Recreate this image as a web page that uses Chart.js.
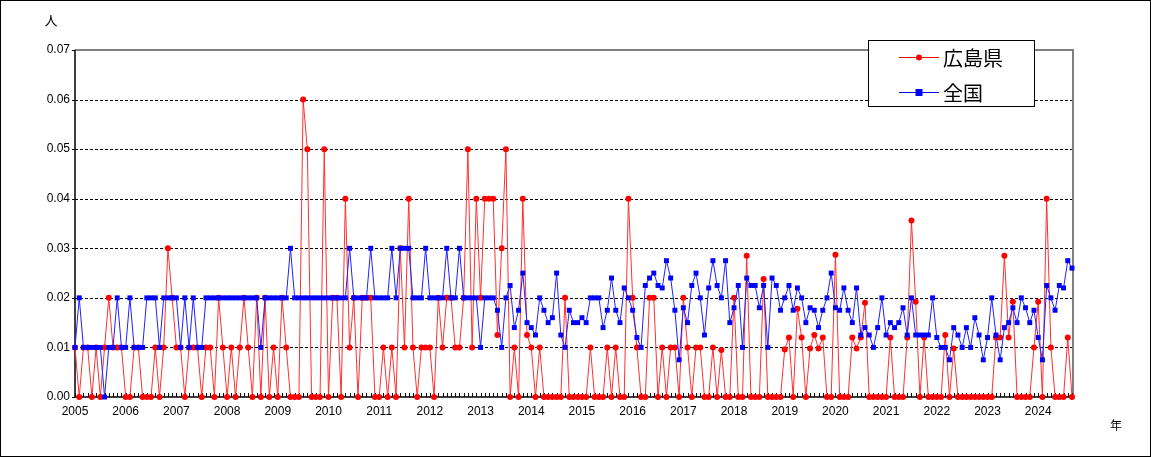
<!DOCTYPE html>
<html lang="ja">
<head>
<meta charset="UTF-8">
<title>広島県・全国 推移</title>
<script src="https://cdn.jsdelivr.net/npm/chart.js"></script>
<style>
  body { margin: 0; background: #fff; }
  canvas { display: block; }
</style>
</head>
<body>
<canvas id="chart" width="1151" height="457"></canvas>
<script>
// 年（各年1月が目盛）
const years = [2005, 2006, 2007, 2008, 2009, 2010, 2011, 2012, 2013, 2014,
               2015, 2016, 2017, 2018, 2019, 2020, 2021, 2022, 2023, 2024];
const lastYearMonths = 9; // 2024年は9月まで
const yTicks = [0, 0.01, 0.02, 0.03, 0.04, 0.05, 0.06, 0.07];

// 広島県
const hiroshima = [
  0.01, 0, 0.01, 0.01, 0, 0.01, 0, 0.01, 0.02, 0.01, 0.01, 0.01,
  0, 0, 0.01, 0.01, 0, 0, 0, 0.01, 0, 0.01, 0.03, 0.02,
  0.01, 0.01, 0, 0.01, 0.01, 0.01, 0, 0.01, 0.01, 0, 0.02, 0.01,
  0, 0.01, 0, 0.01, 0.02, 0.01, 0, 0.02, 0, 0.02, 0, 0.01,
  0, 0.02, 0.01, 0, 0, 0, 0.06, 0.05, 0, 0, 0, 0.05,
  0, 0.02, 0.02, 0, 0.04, 0.01, 0.02, 0, 0.02, 0.02, 0.02, 0,
  0, 0.01, 0, 0.01, 0, 0.03, 0.01, 0.04, 0.01, 0, 0.01, 0.01,
  0.01, 0, 0.02, 0.01, 0.02, 0.02, 0.01, 0.01, 0.02, 0.05, 0.01, 0.04,
  0.02, 0.04, 0.04, 0.04, 0.0125, 0.03, 0.05, 0, 0.01, 0, 0.04, 0.0125,
  0.01, 0, 0.01, 0, 0, 0, 0, 0, 0.02, 0, 0, 0,
  0, 0, 0.01, 0, 0, 0, 0.01, 0, 0.01, 0, 0, 0.04,
  0.02, 0.01, 0, 0, 0.02, 0.02, 0, 0.01, 0, 0.01, 0.01, 0,
  0.02, 0.01, 0, 0.01, 0.01, 0, 0, 0.01, 0, 0.0095, 0, 0,
  0.02, 0, 0, 0.0285, 0, 0, 0, 0.0238, 0, 0, 0, 0,
  0.0096, 0.012, 0, 0.0178, 0.012, 0, 0.0098, 0.0125, 0.0098, 0.012, 0, 0,
  0.0287, 0, 0, 0, 0.012, 0.0098, 0.012, 0.019, 0, 0, 0, 0,
  0, 0.012, 0, 0, 0, 0.012, 0.0356, 0.0192, 0, 0.012, 0, 0,
  0, 0, 0.0125, 0, 0.0098, 0, 0, 0, 0, 0, 0, 0,
  0, 0, 0.012, 0.012, 0.0285, 0.012, 0.0192, 0, 0, 0, 0, 0.01,
  0.0192, 0, 0.04, 0.01, 0, 0, 0, 0.012, 0
];

// 全国
const zenkoku = [
  0.01, 0.02, 0.01, 0.01, 0.01, 0.01, 0.01, 0, 0.01, 0.01, 0.02, 0.01,
  0.01, 0.02, 0.01, 0.01, 0.01, 0.02, 0.02, 0.02, 0.01, 0.02, 0.02, 0.02,
  0.02, 0.01, 0.02, 0.01, 0.02, 0.01, 0.01, 0.02, 0.02, 0.02, 0.02, 0.02,
  0.02, 0.02, 0.02, 0.02, 0.02, 0.02, 0.02, 0.02, 0.01, 0.02, 0.02, 0.02,
  0.02, 0.02, 0.02, 0.03, 0.02, 0.02, 0.02, 0.02, 0.02, 0.02, 0.02, 0.02,
  0.02, 0.02, 0.02, 0.02, 0.02, 0.03, 0.02, 0.02, 0.02, 0.02, 0.03, 0.02,
  0.02, 0.02, 0.02, 0.03, 0.02, 0.03, 0.03, 0.03, 0.02, 0.02, 0.02, 0.03,
  0.02, 0.02, 0.02, 0.02, 0.03, 0.02, 0.02, 0.03, 0.02, 0.02, 0.02, 0.02,
  0.01, 0.02, 0.02, 0.02, 0.0175, 0.01, 0.02, 0.0225, 0.014, 0.0175, 0.025, 0.015,
  0.014, 0.0125, 0.02, 0.0175, 0.015, 0.016, 0.025, 0.0125, 0.01, 0.0175, 0.015, 0.015,
  0.016, 0.015, 0.02, 0.02, 0.02, 0.014, 0.0175, 0.024, 0.0175, 0.015, 0.022, 0.02,
  0.0175, 0.012, 0.01, 0.0225, 0.024, 0.025, 0.0225, 0.022, 0.0275, 0.024, 0.0175, 0.0075,
  0.018, 0.015, 0.0225, 0.025, 0.02, 0.0125, 0.022, 0.0275, 0.0225, 0.02, 0.0275, 0.015,
  0.018, 0.0225, 0.01, 0.024, 0.0225, 0.0225, 0.018, 0.0225, 0.01, 0.024, 0.0225, 0.0175,
  0.02, 0.0225, 0.0175, 0.022, 0.02, 0.015, 0.018, 0.0175, 0.014, 0.0175, 0.02, 0.025,
  0.018, 0.0175, 0.022, 0.0175, 0.015, 0.022, 0.0125, 0.014, 0.0125, 0.01, 0.014, 0.02,
  0.0125, 0.015, 0.014, 0.015, 0.018, 0.0125, 0.02, 0.0125, 0.0125, 0.0125, 0.0125, 0.02,
  0.012, 0.01, 0.01, 0.0075, 0.014, 0.0125, 0.01, 0.014, 0.01, 0.016, 0.0125, 0.0075,
  0.012, 0.02, 0.0125, 0.0075, 0.014, 0.015, 0.018, 0.015, 0.02, 0.018, 0.015, 0.0175,
  0.012, 0.0075, 0.0225, 0.02, 0.0175, 0.0225, 0.022, 0.0275, 0.026
];

// 月ごとのラベル（1月だけ年を表示）
const labels = [];
years.forEach((y, k) => {
  const n = k === years.length - 1 ? lastYearMonths : 12;
  for (let m = 1; m <= n; m++) labels.push(y + '/' + m);
});

const numFont = "'Liberation Sans', Arial, sans-serif";
const jpFont = "'Noto Sans CJK JP', sans-serif";

// 枠・グリッド・月目盛を描く
const framePlugin = {
  id: 'frame',
  beforeDatasetsDraw(chart) {
    const { ctx, chartArea: a, scales: { x, y } } = chart;
    ctx.save();
    // 破線グリッド
    ctx.strokeStyle = '#000';
    ctx.lineWidth = 1;
    ctx.setLineDash([3, 2]);
    yTicks.forEach(v => {
      if (v <= 0 || v >= 0.07) return;
      const py = Math.round(y.getPixelForValue(v)) + 0.5;
      ctx.beginPath(); ctx.moveTo(a.left, py); ctx.lineTo(a.right, py); ctx.stroke();
    });
    ctx.setLineDash([]);
    // 上・右の枠（灰色）
    ctx.strokeStyle = '#808080';
    ctx.lineWidth = 2;
    ctx.beginPath();
    ctx.moveTo(a.left, a.top); ctx.lineTo(a.right + 1, a.top); ctx.lineTo(a.right + 1, a.bottom);
    ctx.stroke();
    // 軸（黒）
    ctx.strokeStyle = '#000';
    ctx.lineWidth = 1.5;
    ctx.beginPath();
    ctx.moveTo(a.left, a.top); ctx.lineTo(a.left, a.bottom); ctx.lineTo(a.right + 1, a.bottom);
    ctx.stroke();
    // y目盛
    ctx.lineWidth = 1;
    yTicks.forEach(v => {
      const py = Math.round(y.getPixelForValue(v)) + 0.5;
      ctx.beginPath(); ctx.moveTo(a.left - 3, py); ctx.lineTo(a.left, py); ctx.stroke();
    });
    // 月目盛（内向き）
    labels.forEach((l, i) => {
      const px = Math.round(x.getPixelForValue(i)) + 0.5;
      ctx.beginPath(); ctx.moveTo(px, a.bottom); ctx.lineTo(px, a.bottom - 4); ctx.stroke();
    });
    ctx.restore();
  },
  afterDraw(chart) {
    const { ctx } = chart;
    ctx.save();
    // 外枠
    ctx.strokeStyle = '#000';
    ctx.lineWidth = 1;
    ctx.strokeRect(0.5, 0.5, chart.width - 1, chart.height - 1);
    // 単位
    ctx.fillStyle = '#000';
    ctx.font = '13px ' + jpFont;
    ctx.textAlign = 'center';
    ctx.textBaseline = 'middle';
    ctx.fillText('人', 51, 20);
    ctx.font = '12px ' + jpFont;
    ctx.fillText('年', 1116, 425);
    // 凡例
    ctx.fillStyle = '#fff';
    ctx.fillRect(868, 40, 167, 67);
    ctx.strokeRect(868.5, 40.5, 166, 66);
    const items = [
      { text: '広島県', color: '#ff0000', shape: 'circle', y: 57 },
      { text: '全国', color: '#0000ff', shape: 'rect', y: 92 }
    ];
    items.forEach(it => {
      ctx.strokeStyle = it.color;
      ctx.fillStyle = it.color;
      ctx.lineWidth = 1;
      ctx.beginPath(); ctx.moveTo(899, it.y + 0.5); ctx.lineTo(939, it.y + 0.5); ctx.stroke();
      if (it.shape === 'circle') {
        ctx.beginPath(); ctx.arc(919, it.y + 0.5, 3, 0, Math.PI * 2); ctx.fill();
      } else {
        ctx.fillRect(915.5, it.y - 3, 7, 7);
      }
      ctx.fillStyle = '#000';
      ctx.font = '20px ' + jpFont;
      ctx.textAlign = 'left';
      ctx.textBaseline = 'middle';
      ctx.fillText(it.text, 943, it.y + 1);
    });
    ctx.restore();
  }
};

const ctx = document.getElementById('chart').getContext('2d');
new Chart(ctx, {
  type: 'line',
  data: {
    labels: labels,
    datasets: [
      {
        label: '広島県',
        data: hiroshima,
        borderColor: '#ff3030',
        backgroundColor: '#ff0000',
        borderWidth: 1,
        pointStyle: 'circle',
        pointRadius: 3,
        pointBorderWidth: 0,
        tension: 0,
        order: 1
      },
      {
        label: '全国',
        data: zenkoku,
        borderColor: '#2020ff',
        backgroundColor: '#0000ff',
        borderWidth: 1,
        pointStyle: 'rect',
        pointRadius: 3.5,
        pointBorderWidth: 0,
        tension: 0,
        order: 0
      }
    ]
  },
  options: {
    responsive: false,
    animation: false,
    clip: false,
    layout: { padding: { top: 50, right: 79, left: 0, bottom: 0 } },
    plugins: {
      legend: { display: false },
      tooltip: { enabled: false }
    },
    scales: {
      x: {
        type: 'category',
        offset: false,
        grid: { display: false, drawTicks: false },
        border: { display: false },
        ticks: {
          autoSkip: false,
          maxRotation: 0,
          padding: 7,
          color: '#000',
          font: { size: 12, family: numFont },
          callback: (v, i) => (i % 12 === 0 ? years[i / 12] : '')
        },
        afterFit: s => { s.height = 60; }
      },
      y: {
        min: 0,
        max: 0.07,
        grid: { display: false, drawTicks: false },
        border: { display: false },
        ticks: {
          stepSize: 0.01,
          padding: 5,
          color: '#000',
          font: { size: 12, family: numFont },
          callback: v => v.toFixed(2)
        },
        afterFit: s => { s.width = 75; }
      }
    }
  },
  plugins: [framePlugin]
});
</script>
</body>
</html>
